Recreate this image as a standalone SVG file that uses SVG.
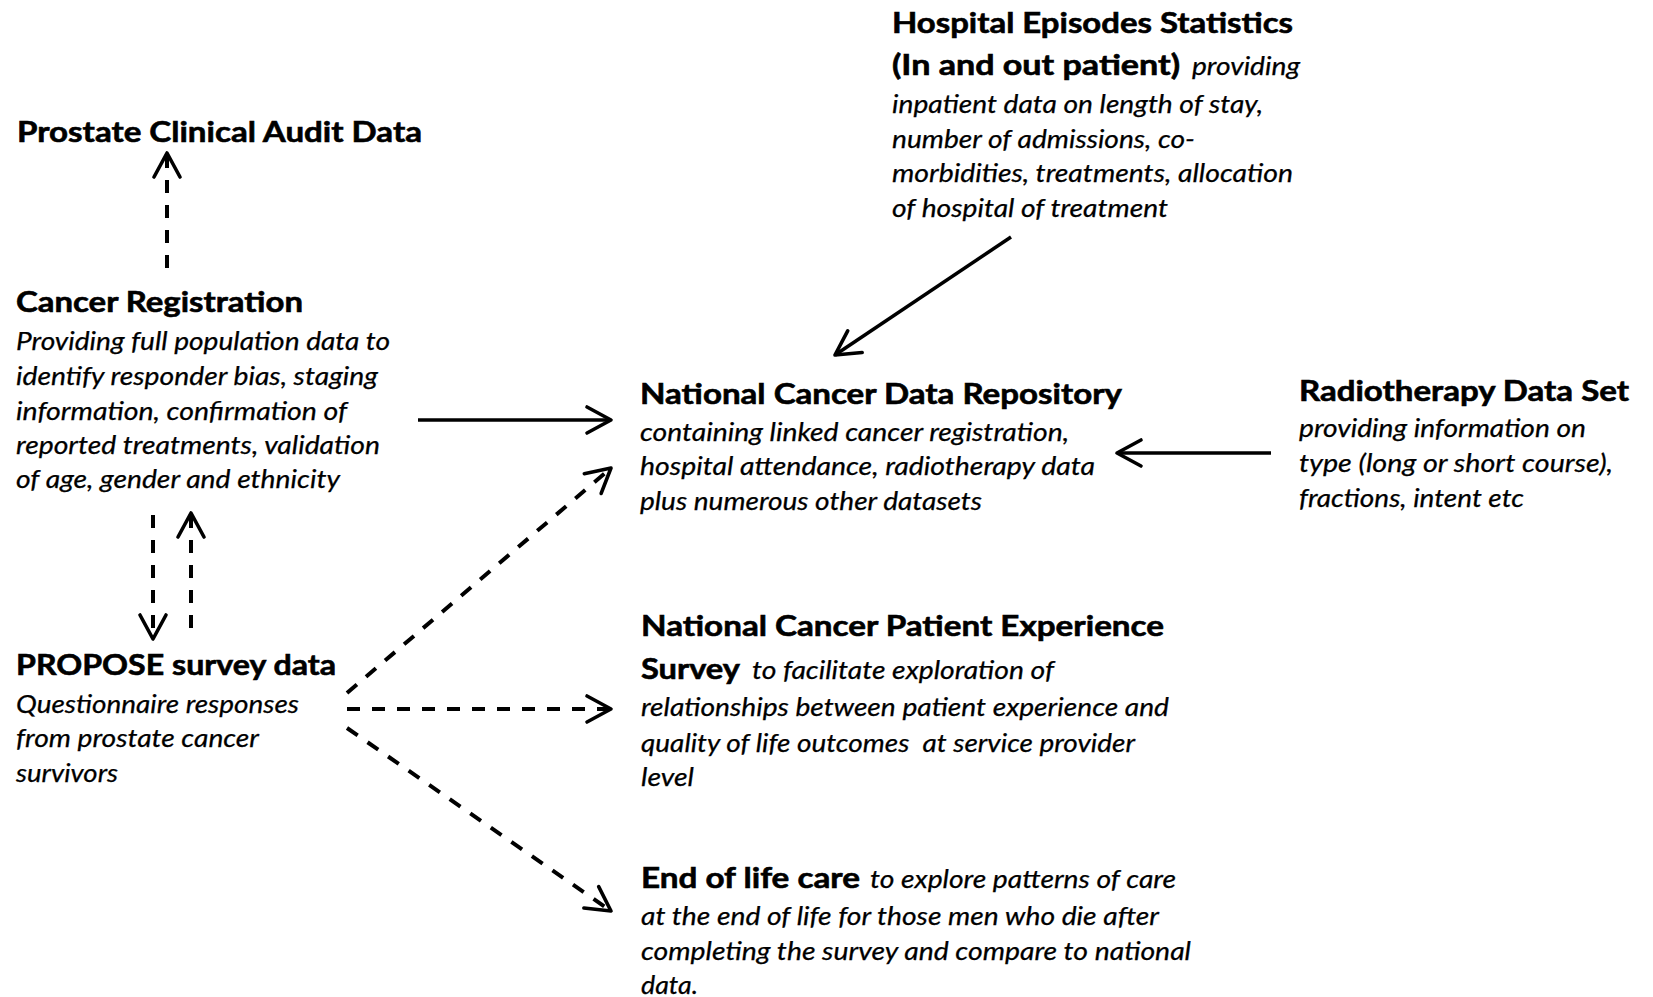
<svg xmlns="http://www.w3.org/2000/svg" width="1653" height="997" viewBox="0 0 1653 997">
  <style>
    .t { font-family: Lato, "Open Sans", "Liberation Sans", sans-serif; font-size: 29px; font-weight: 700; fill: #000; stroke: #000; stroke-width: 0.6; }
    .d { font-family: Lato, "Open Sans", "Liberation Sans", sans-serif; font-size: 25px; font-style: italic; fill: #000; stroke: #000; stroke-width: 0.25; }
    .solid { fill: none; stroke: #000; stroke-width: 3.5; }
    .dash { fill: none; stroke: #000; stroke-width: 4; stroke-dasharray: 13 12; }
  </style>
  <defs>
    <marker id="arrow" markerUnits="userSpaceOnUse" markerWidth="40" markerHeight="40" refX="0" refY="0" viewBox="-30 -20 40 40" orient="auto" overflow="visible">
      <path d="M -24 -13 L 0 0 L -24 13" fill="none" stroke="#000" stroke-width="3.6" stroke-linecap="round" stroke-linejoin="round"/>
    </marker>
  </defs>

  <rect width="1653" height="997" fill="#fff"/>

  <!-- connectors -->
  <g id="connectors">
    <line class="dash" x1="167" y1="268" x2="167" y2="153" marker-end="url(#arrow)"/>
    <line class="dash" x1="153" y1="515" x2="153" y2="639" marker-end="url(#arrow)"/>
    <line class="dash" x1="191" y1="628" x2="191" y2="513" marker-end="url(#arrow)"/>
    <line class="solid" x1="418" y1="420" x2="611" y2="420" marker-end="url(#arrow)"/>
    <line class="solid" x1="1011" y1="237" x2="835" y2="355" marker-end="url(#arrow)"/>
    <line class="solid" x1="1271" y1="453" x2="1117" y2="453" marker-end="url(#arrow)"/>
    <line class="dash" x1="347" y1="693" x2="611" y2="468" marker-end="url(#arrow)"/>
    <line class="dash" x1="347" y1="709" x2="611" y2="709" marker-end="url(#arrow)"/>
    <line class="dash" x1="347" y1="728" x2="611" y2="911" marker-end="url(#arrow)"/>
  </g>

  <g id="prostate-audit">
    <text class="t" x="17" y="142" textLength="405" lengthAdjust="spacingAndGlyphs">Prostate Clinical Audit Data</text>
  </g>

  <g id="cancer-registration">
    <text class="t" x="16" y="312" textLength="287" lengthAdjust="spacingAndGlyphs">Cancer Registration</text>
    <text class="d" x="16" y="350" textLength="374" lengthAdjust="spacingAndGlyphs">Providing full population data to</text>
    <text class="d" x="16" y="385" textLength="362" lengthAdjust="spacingAndGlyphs">identify responder bias, staging</text>
    <text class="d" x="16" y="420" textLength="331" lengthAdjust="spacingAndGlyphs">information, confirmation of</text>
    <text class="d" x="16" y="454" textLength="364" lengthAdjust="spacingAndGlyphs">reported treatments, validation</text>
    <text class="d" x="16" y="488" textLength="324" lengthAdjust="spacingAndGlyphs">of age, gender and ethnicity</text>
  </g>

  <g id="propose-survey">
    <text class="t" x="16" y="675" textLength="320" lengthAdjust="spacingAndGlyphs">PROPOSE survey data</text>
    <text class="d" x="16" y="713" textLength="283" lengthAdjust="spacingAndGlyphs">Questionnaire responses</text>
    <text class="d" x="16" y="747" textLength="243" lengthAdjust="spacingAndGlyphs">from prostate cancer</text>
    <text class="d" x="16" y="782" textLength="102" lengthAdjust="spacingAndGlyphs">survivors</text>
  </g>

  <g id="hospital-episodes">
    <text class="t" x="892" y="33" textLength="401" lengthAdjust="spacingAndGlyphs">Hospital Episodes Statistics</text>
    <text class="t" x="892" y="75" textLength="288" lengthAdjust="spacingAndGlyphs">(In and out patient)</text>
    <text class="d" x="1192" y="75" textLength="108" lengthAdjust="spacingAndGlyphs">providing</text>
    <text class="d" x="892" y="113" textLength="371" lengthAdjust="spacingAndGlyphs">inpatient data on length of stay,</text>
    <text class="d" x="892" y="148" textLength="303" lengthAdjust="spacingAndGlyphs">number of admissions, co-</text>
    <text class="d" x="892" y="182" textLength="401" lengthAdjust="spacingAndGlyphs">morbidities, treatments, allocation</text>
    <text class="d" x="892" y="217" textLength="276" lengthAdjust="spacingAndGlyphs">of hospital of treatment</text>
  </g>

  <g id="national-repository">
    <text class="t" x="640" y="404" textLength="482" lengthAdjust="spacingAndGlyphs">National Cancer Data Repository</text>
    <text class="d" x="640" y="441" textLength="429" lengthAdjust="spacingAndGlyphs">containing linked cancer registration,</text>
    <text class="d" x="640" y="475" textLength="455" lengthAdjust="spacingAndGlyphs">hospital attendance, radiotherapy data</text>
    <text class="d" x="640" y="510" textLength="342" lengthAdjust="spacingAndGlyphs">plus numerous other datasets</text>
  </g>

  <g id="radiotherapy">
    <text class="t" x="1299" y="401" textLength="330" lengthAdjust="spacingAndGlyphs">Radiotherapy Data Set</text>
    <text class="d" x="1299" y="437" textLength="287" lengthAdjust="spacingAndGlyphs">providing information on</text>
    <text class="d" x="1299" y="472" textLength="314" lengthAdjust="spacingAndGlyphs">type (long or short course),</text>
    <text class="d" x="1299" y="507" textLength="225" lengthAdjust="spacingAndGlyphs">fractions, intent etc</text>
  </g>

  <g id="patient-experience">
    <text class="t" x="641" y="636" textLength="523" lengthAdjust="spacingAndGlyphs">National Cancer Patient Experience</text>
    <text class="t" x="641" y="679" textLength="99" lengthAdjust="spacingAndGlyphs">Survey</text>
    <text class="d" x="752" y="679" textLength="302" lengthAdjust="spacingAndGlyphs">to facilitate exploration of</text>
    <text class="d" x="641" y="716" textLength="528" lengthAdjust="spacingAndGlyphs">relationships between patient experience and</text>
    <text class="d" x="641" y="752" textLength="494" lengthAdjust="spacingAndGlyphs">quality of life outcomes&#160; at service provider</text>
    <text class="d" x="641" y="786" textLength="53" lengthAdjust="spacingAndGlyphs">level</text>
  </g>

  <g id="end-of-life">
    <text class="t" x="641" y="888" textLength="219" lengthAdjust="spacingAndGlyphs">End of life care</text>
    <text class="d" x="870" y="888" textLength="306" lengthAdjust="spacingAndGlyphs">to explore patterns of care</text>
    <text class="d" x="641" y="925" textLength="518" lengthAdjust="spacingAndGlyphs">at the end of life for those men who die after</text>
    <text class="d" x="641" y="960" textLength="550" lengthAdjust="spacingAndGlyphs">completing the survey and compare to national</text>
    <text class="d" x="641" y="994" textLength="57" lengthAdjust="spacingAndGlyphs">data.</text>
  </g>
</svg>
